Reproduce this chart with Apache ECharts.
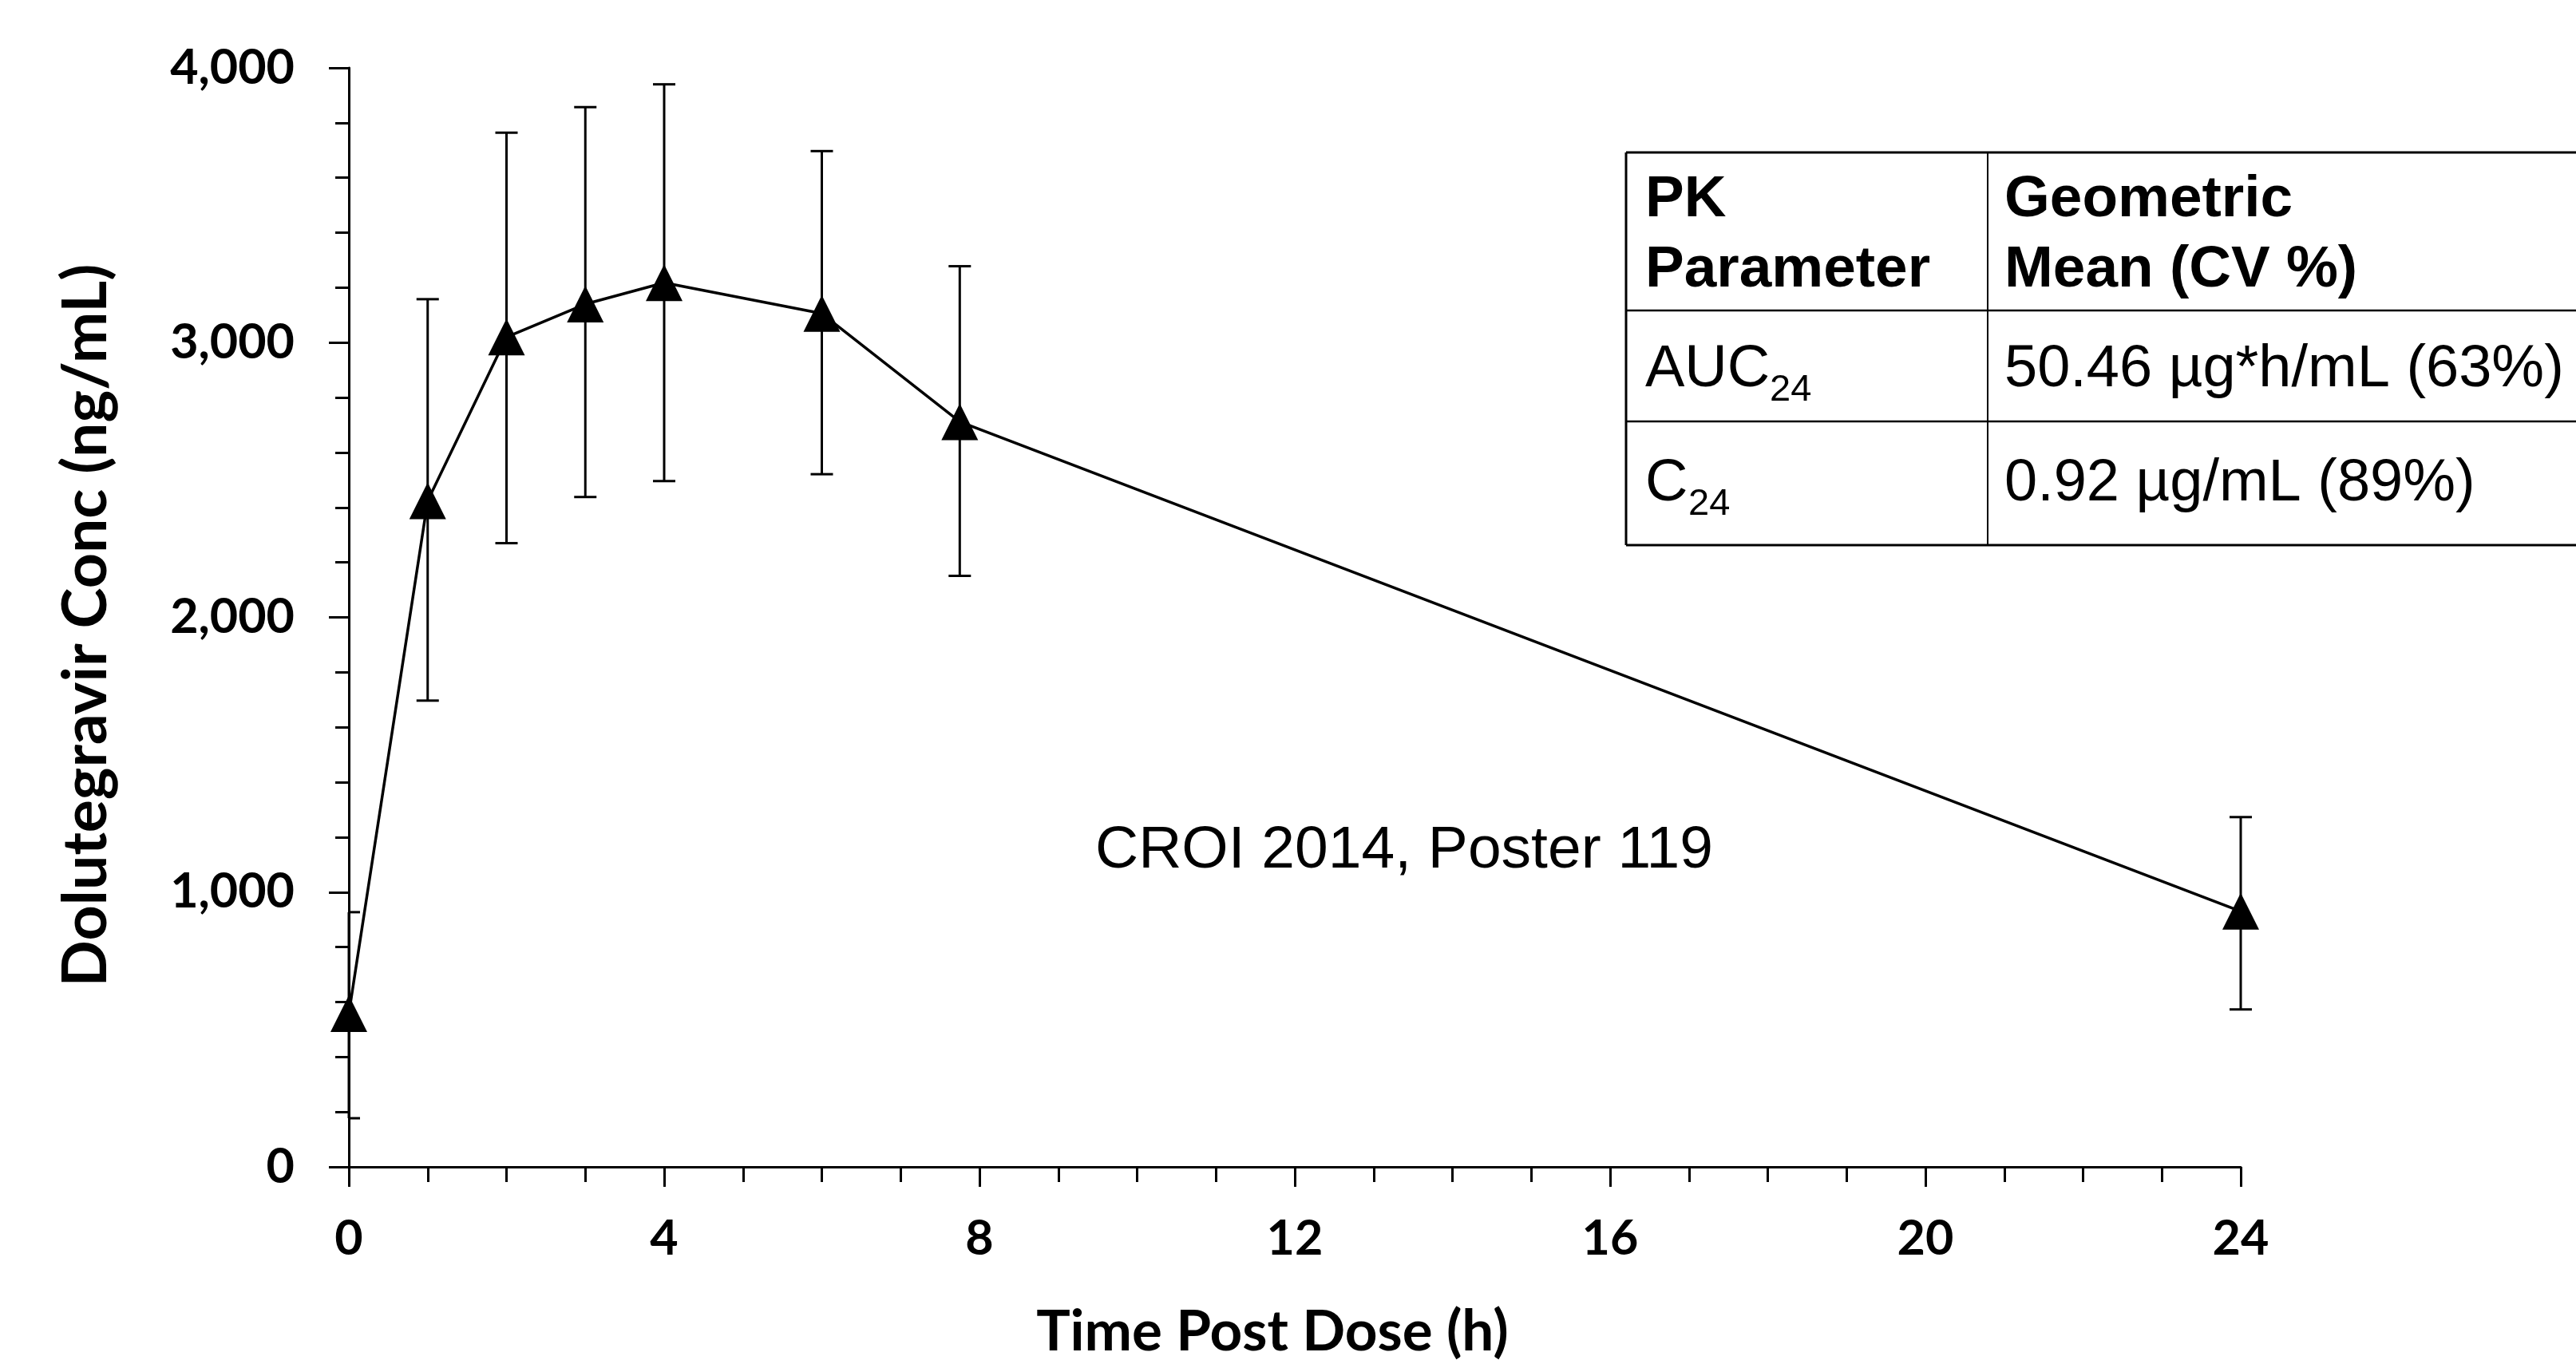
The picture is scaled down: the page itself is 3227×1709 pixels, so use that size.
<!DOCTYPE html>
<html>
<head>
<meta charset="utf-8">
<title>Dolutegravir PK profile</title>
<script src="https://cdn.jsdelivr.net/npm/echarts@6/dist/echarts.min.js"></script>
<style>
    html, body { margin: 0; padding: 0; background: #fff; }
    #chart { width: 3227px; height: 1709px; }
</style>
</head>
<body>
<div id="chart"></div>
<script>
// time after dose (h)
const timePoints = [0, 1, 2, 3, 4, 6, 7.75, 24];
// mean concentration (ng/mL) and error bar ends
const meanConc = [558, 2424, 3020, 3140, 3218, 3106, 2712, 930];
const errLow = [177, 1697, 2270, 2438, 2496, 2521, 2151, 573];
const errHigh = [927, 3158, 3764, 3857, 3940, 3697, 3278, 1273];
// axis ticks
const xTicks = [0, 4, 8, 12, 16, 20, 24];
const yTicks = [0, 1000, 2000, 3000, 4000];
// PK table
const tableHead = [["PK", "Parameter"], ["Geometric", "Mean (CV %)"]];
const tableRows = [
    ["AUC", "24", "50.46 µg*h/mL (63%)"],
    ["C", "24", "0.92 µg/mL (89%)"]
];
const noteText = "CROI 2014, Poster 119";

const axisFont = "Lato";
const tableFont = "'Liberation Sans', Arial, sans-serif";

const chart = echarts.init(document.getElementById("chart"));

// error bars: vertical line with caps, caps cut at the left edge of the plot
function renderErrorBar(params, api) {
    const x = api.value(0);
    const lo = api.coord([x, api.value(1)]);
    const hi = api.coord([x, api.value(2)]);
    const half = 14;
    const minX = params.coordSys.x;
    const capL = Math.max(lo[0] - half, minX);
    const style = { stroke: "#000", lineWidth: 3 };
    return {
        type: "group",
        children: [
            { type: "line", shape: { x1: lo[0], y1: lo[1], x2: hi[0], y2: hi[1] }, style: style },
            { type: "line", shape: { x1: capL, y1: hi[1], x2: hi[0] + half, y2: hi[1] }, style: style },
            { type: "line", shape: { x1: capL, y1: lo[1], x2: lo[0] + half, y2: lo[1] }, style: style }
        ]
    };
}

// table drawn as graphic elements
function tableGraphics() {
    const left = 2037, mid = 2490, right = 3240;
    const rowsY = [191, 389, 528, 683];
    const col1 = 2061, col2 = 2511;
    const els = [];
    rowsY.forEach((y, i) => {
        const outer = i === 0 || i === rowsY.length - 1;
        els.push({ type: "line", shape: { x1: left, y1: y, x2: right, y2: y },
            style: { stroke: "#000", lineWidth: outer ? 3 : 2.5 } });
    });
    els.push({ type: "line", shape: { x1: left, y1: rowsY[0], x2: left, y2: rowsY[3] },
        style: { stroke: "#000", lineWidth: 3 } });
    els.push({ type: "line", shape: { x1: mid, y1: rowsY[0], x2: mid, y2: rowsY[3] },
        style: { stroke: "#000", lineWidth: 2 } });

    const txt = (x, y, text, size, bold) => ({
        type: "text", x: x, y: y,
        style: {
            text: text, fill: "#000", fontSize: size, fontFamily: tableFont,
            fontWeight: bold ? "bold" : "normal", align: "left", verticalAlign: "middle"
        }
    });
    tableHead.forEach((lines, c) => {
        const x = c === 0 ? col1 : col2;
        lines.forEach((line, k) => els.push(txt(x, 251 + k * 88, line, 73, true)));
    });
    const baseY = [464, 607];
    tableRows.forEach((row, r) => {
        els.push(txt(col1, baseY[r], row[0], 74, false));
        const w = r === 0 ? 156 : 54;
        els.push(txt(col1 + w, baseY[r] + 25, row[1], 47, false));
        els.push(txt(col2, baseY[r], row[2], 74, false));
    });
    els.push({
        type: "text", x: 1372, y: 1066,
        style: { text: noteText, fill: "#000", fontSize: 75, fontFamily: tableFont,
            align: "left", verticalAlign: "middle" }
    });
    return els;
}

const tickStyle = { color: "#000", width: 3 };

chart.setOption({
    backgroundColor: "#fff",
    animation: false,
    grid: {
        left: 437,
        right: 420,
        top: 85,
        bottom: 247,
        outerBoundsMode: "none"
    },
    xAxis: {
        type: "value",
        min: xTicks[0],
        max: xTicks[xTicks.length - 1],
        interval: xTicks[1] - xTicks[0],
        name: "Time Post Dose (h)",
        nameLocation: "middle",
        nameGap: 172,
        nameTextStyle: {
            fontFamily: axisFont, fontWeight: "bold", fontSize: 71, color: "#000",
            padding: [0, 56, 0, 0]
        },
        axisLine: { lineStyle: tickStyle },
        axisTick: { length: 25, lineStyle: tickStyle },
        minorTick: { show: true, splitNumber: 4, length: 19, lineStyle: tickStyle },
        splitLine: { show: false },
        axisLabel: {
            fontFamily: axisFont, fontWeight: "bold", fontSize: 61, color: "#000", margin: 60
        }
    },
    yAxis: {
        type: "value",
        min: yTicks[0],
        max: yTicks[yTicks.length - 1],
        interval: yTicks[1] - yTicks[0],
        name: "Dolutegravir Conc (ng/mL)",
        nameLocation: "middle",
        nameGap: 290,
        nameTextStyle: {
            fontFamily: axisFont, fontWeight: "bold", fontSize: 77, color: "#000",
            padding: [0, 20, 0, 0]
        },
        axisLine: { show: true, lineStyle: tickStyle },
        axisTick: { show: true, length: 25, lineStyle: tickStyle },
        minorTick: { show: true, splitNumber: 5, length: 17, lineStyle: tickStyle },
        splitLine: { show: false },
        axisLabel: {
            fontFamily: axisFont, fontWeight: "bold", fontSize: 61, color: "#000", margin: 68,
            formatter: v => v.toLocaleString("en-US")
        }
    },
    series: [
        {
            type: "custom",
            name: "error",
            clip: false,
            renderItem: renderErrorBar,
            encode: { x: 0, y: [1, 2] },
            data: timePoints.map((t, i) => [t, errLow[i], errHigh[i]]),
            z: 2
        },
        {
            type: "line",
            name: "Dolutegravir",
            data: timePoints.map((t, i) => [t, meanConc[i]]),
            symbol: "triangle",
            symbolSize: 46,
            itemStyle: { color: "#000" },
            lineStyle: { color: "#000", width: 3.5 },
            z: 3
        }
    ],
    graphic: { elements: tableGraphics() }
});
</script>
</body>
</html>
